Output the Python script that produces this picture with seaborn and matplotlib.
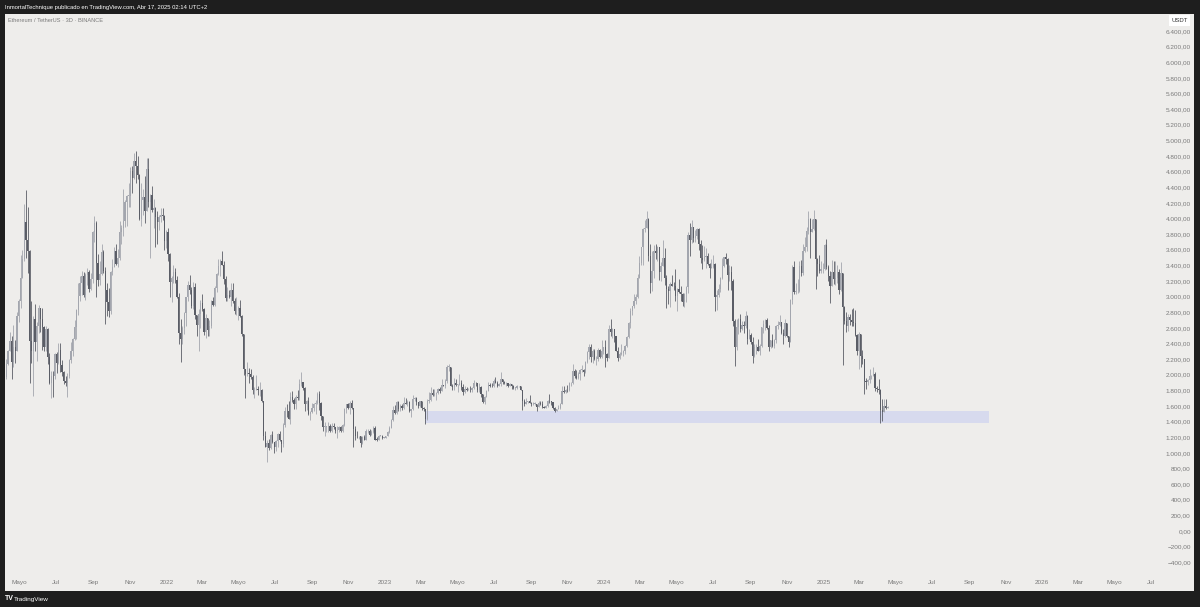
import numpy as np
import pandas as pd
import matplotlib
matplotlib.use("Agg")
import matplotlib.pyplot as plt
import matplotlib.dates as mdates
from matplotlib.patches import Rectangle
import seaborn as sns

# ---------------- data (ETH/USDT, 3-day candles) ----------------
first_date = "2021-04-08"
first_open = 1970

close_2021 = [2135, 2300, 2430, 2160, 2360, 2310, 2750, 2950, 3240, 3480,
              3950, 3720, 3580, 2430, 2300, 2720, 2420, 2630, 2850, 2710,
              2610, 2350, 2590, 2230, 1890, 1990, 1980, 2270, 2150, 2320,
              2120, 2040, 1920, 1890, 1990, 2190, 2300, 2460, 2610, 2830,
              3010, 3170, 3270, 3020, 3280, 3320, 3100, 3230, 3830, 3940,
              3430, 3210, 3290, 3570, 3330, 3080, 2930, 2810, 3310, 3380,
              3590, 3420, 3490, 3830, 3880, 3970, 4210, 4290, 4290, 4610,
              4520, 4730, 4670, 4560, 3990, 4240, 4270, 4100, 4630, 4210,
              4300, 4110, 4130, 4020, 3960, 4020, 4050, 4030, 3710, 3830]
high_2021 = [2200, 2320, 2550, 2500, 2640, 2440, 2800, 2970, 3530, 3600,
             4190, 4370, 4150, 3600, 2950, 2750, 2900, 2680, 2890, 2860,
             2850, 2620, 2620, 2600, 2280, 2050, 2050, 2280, 2290, 2410,
             2410, 2190, 2050, 1980, 2020, 2200, 2420, 2470, 2700, 2840,
             3180, 3270, 3330, 3320, 3300, 3370, 3340, 3300, 3840, 4030,
             3970, 3550, 3460, 3680, 3600, 3380, 3170, 3110, 3330, 3480,
             3640, 3670, 3610, 3970, 3920, 4380, 4240, 4300, 4460, 4660,
             4670, 4840, 4870, 4800, 4570, 4450, 4380, 4550, 4780, 4780,
             4320, 4420, 4250, 4150, 4100, 4050, 4140, 4130, 4050, 3850]
low_2021 = [1950, 2120, 2300, 1950, 2100, 2150, 2300, 2680, 2850, 3240,
            3450, 3500, 3300, 1900, 2150, 1730, 2300, 2170, 2530, 2550,
            2320, 2300, 2300, 2140, 1880, 1700, 1720, 1950, 2020, 2140,
            2040, 1990, 1880, 1850, 1720, 1960, 2150, 2240, 2450, 2460,
            2770, 2940, 3020, 3000, 2960, 3150, 3060, 3080, 3170, 3700,
            3000, 3140, 3150, 3280, 3300, 2650, 2750, 2740, 2780, 3280,
            3380, 3400, 3380, 3470, 3670, 3780, 3890, 3900, 4150, 4150,
            4330, 4500, 4450, 4500, 3980, 3900, 4050, 3940, 4100, 4150,
            3500, 4080, 3880, 3640, 3680, 3850, 3950, 3980, 3600, 3620]

close_2022 = [3540, 3190, 3240, 3310, 3210, 3000, 2530, 2460, 2600, 2790,
              2990, 3150, 3080, 2880, 3120, 2760, 2640, 2780, 2920, 2840,
              2550, 2730, 2570, 2620, 2950, 2890, 3110, 3290, 3390, 3450,
              3410, 3230, 2980, 3020, 2990, 3080, 2940, 2810, 2820, 2860,
              2750, 2520, 2080, 2010, 2020, 2010, 1970, 1800, 1810, 1820,
              1800, 1810, 1660, 1210, 1070, 1130, 1060, 1230, 1140, 1070,
              1150, 1240, 1170, 1110, 1360, 1540, 1530, 1440, 1720, 1680,
              1620, 1720, 1700, 1880, 1910, 1830, 1620, 1660, 1500, 1520,
              1580, 1620, 1640, 1760, 1640, 1470, 1330, 1330, 1340, 1340,
              1280, 1350, 1330, 1280, 1290, 1330, 1280, 1360, 1560, 1620,
              1570, 1640, 1570, 1300, 1220, 1210, 1220, 1130, 1200, 1170,
              1275, 1280, 1230, 1265, 1320, 1170, 1165, 1215, 1220, 1190,
              1196]
high_2022 = [3880, 3560, 3270, 3410, 3370, 3270, 3050, 2720, 2620, 2800,
             3000, 3200, 3280, 3120, 3190, 3180, 2760, 2840, 2960, 3040,
             2850, 2780, 2730, 2700, 2960, 2990, 3140, 3300, 3480, 3480,
             3580, 3450, 3270, 3120, 3090, 3180, 3180, 2980, 2990, 2880,
             2960, 2760, 2520, 2080, 2160, 2090, 2070, 2000, 1840, 2000,
             1850, 1910, 1820, 1670, 1280, 1160, 1180, 1240, 1280, 1140,
             1160, 1250, 1280, 1170, 1380, 1590, 1620, 1660, 1780, 1790,
             1700, 1740, 1800, 1940, 2030, 1910, 1840, 1680, 1720, 1540,
             1640, 1640, 1680, 1780, 1790, 1650, 1470, 1400, 1350, 1400,
             1370, 1380, 1380, 1330, 1340, 1340, 1340, 1370, 1580, 1630,
             1640, 1670, 1680, 1580, 1340, 1280, 1220, 1220, 1220, 1230,
             1300, 1300, 1300, 1290, 1350, 1350, 1200, 1230, 1230, 1230,
             1205]
low_2022 = [3450, 3000, 2930, 3180, 3170, 2980, 2400, 2160, 2400, 2520,
            2620, 2950, 3040, 2850, 2840, 2720, 2500, 2300, 2600, 2820,
            2510, 2470, 2500, 2500, 2600, 2880, 2880, 3060, 3280, 3260,
            3400, 3160, 2950, 2950, 2980, 2880, 2920, 2780, 2770, 2700,
            2740, 2500, 2000, 1700, 1980, 1900, 1950, 1750, 1700, 1800,
            1740, 1730, 1650, 1170, 1070, 880, 1040, 1050, 1130, 1000,
            1030, 1080, 1150, 1010, 1080, 1330, 1460, 1430, 1370, 1650,
            1560, 1560, 1680, 1680, 1860, 1800, 1530, 1550, 1480, 1420,
            1510, 1540, 1500, 1630, 1550, 1420, 1280, 1220, 1270, 1270,
            1270, 1270, 1310, 1260, 1190, 1270, 1270, 1270, 1340, 1510,
            1560, 1500, 1560, 1070, 1170, 1190, 1180, 1070, 1120, 1160,
            1170, 1260, 1220, 1230, 1250, 1160, 1150, 1160, 1210, 1180,
            1185]

close_2023 = [1215, 1270, 1320, 1420, 1550, 1515, 1650, 1560, 1600, 1570,
              1640, 1630, 1650, 1540, 1560, 1690, 1700, 1650, 1600, 1660,
              1570, 1560, 1430, 1670, 1680, 1770, 1740, 1750, 1770, 1820,
              1790, 1870, 1860, 1920, 2100, 2100, 1850, 1840, 1900, 1870,
              1870, 1900, 1845, 1780, 1820, 1800, 1810, 1800, 1830, 1900,
              1890, 1810, 1845, 1750, 1650, 1720, 1790, 1870, 1860, 1850,
              1920, 1900, 1860, 1880, 1940, 1910, 1890, 1890, 1860, 1880,
              1860, 1830, 1830, 1850, 1850, 1810, 1670, 1630, 1650, 1660,
              1640, 1630, 1630, 1630, 1590, 1640, 1630, 1590, 1580, 1600,
              1670, 1660, 1650, 1580, 1540, 1560, 1570, 1630, 1790, 1780,
              1810, 1800, 1890, 1890, 2050, 1980, 1960, 2010, 2060, 2060,
              2030, 2160, 2290, 2360, 2230, 2310, 2200, 2200, 2320, 2230,
              2300, 2350]
high_2023 = [1220, 1275, 1350, 1430, 1600, 1610, 1670, 1660, 1630, 1620,
             1710, 1700, 1680, 1660, 1560, 1740, 1720, 1710, 1650, 1670,
             1670, 1590, 1560, 1690, 1780, 1840, 1820, 1820, 1780, 1830,
             1840, 1940, 1870, 1940, 2130, 2140, 2100, 1880, 1960, 1940,
             1880, 2010, 1930, 1880, 1850, 1840, 1830, 1860, 1840, 1930,
             1910, 1900, 1890, 1850, 1750, 1730, 1800, 1910, 1900, 1900,
             1940, 1970, 1920, 1890, 2030, 1940, 1920, 1910, 1880, 1890,
             1880, 1870, 1840, 1870, 1860, 1860, 1810, 1690, 1700, 1670,
             1740, 1650, 1650, 1650, 1630, 1660, 1660, 1660, 1600, 1610,
             1680, 1750, 1670, 1650, 1590, 1560, 1610, 1640, 1860, 1860,
             1820, 1870, 1910, 1910, 2140, 2080, 2060, 2030, 2070, 2130,
             2070, 2170, 2300, 2390, 2400, 2330, 2330, 2240, 2340, 2330,
             2450, 2360]
low_2023 = [1190, 1210, 1260, 1320, 1410, 1500, 1500, 1540, 1530, 1550,
            1560, 1620, 1600, 1520, 1460, 1550, 1670, 1610, 1580, 1590,
            1550, 1540, 1370, 1420, 1640, 1670, 1730, 1730, 1680, 1760,
            1770, 1790, 1850, 1830, 1900, 2050, 1850, 1800, 1800, 1860,
            1780, 1880, 1810, 1740, 1770, 1790, 1800, 1780, 1780, 1820,
            1850, 1780, 1780, 1720, 1640, 1630, 1720, 1790, 1840, 1840,
            1840, 1900, 1840, 1850, 1860, 1880, 1880, 1850, 1840, 1850,
            1820, 1820, 1810, 1820, 1840, 1800, 1550, 1600, 1630, 1640,
            1640, 1600, 1610, 1610, 1530, 1590, 1610, 1580, 1570, 1570,
            1590, 1640, 1610, 1560, 1520, 1530, 1560, 1560, 1620, 1770,
            1770, 1780, 1790, 1860, 1880, 1960, 1950, 1940, 1930, 2040,
            1990, 2020, 2150, 2200, 2160, 2150, 2190, 2120, 2180, 2220,
            2220, 2270]

close_2024 = [2270, 2220, 2580, 2550, 2590, 2490, 2310, 2220, 2260, 2280,
              2300, 2370, 2480, 2660, 2820, 2880, 2940, 2990, 3240, 3430,
              3630, 3870, 3880, 4000, 3520, 3170, 3330, 3590, 3560, 3640,
              3310, 3390, 3500, 3240, 3100, 3070, 3160, 3140, 3130, 3010,
              3100, 3060, 3040, 2930, 3040, 3120, 3790, 3730, 3890, 3750,
              3780, 3860, 3680, 3500, 3470, 3510, 3520, 3420, 3370, 3380,
              3420, 2990, 3020, 3100, 3240, 3390, 3510, 3480, 3280, 3320,
              3200, 2690, 2350, 2610, 2720, 2590, 2640, 2620, 2750, 2460,
              2510, 2420, 2240, 2360, 2360, 2310, 2370, 2610, 2650, 2700,
              2600, 2350, 2440, 2370, 2440, 2620, 2640, 2670, 2530, 2500,
              2660, 2490, 2420, 2960, 3380, 3060, 3070, 3070, 3390, 3300,
              3590, 3640, 3840, 4000, 3830, 3870, 3990, 3480, 3420, 3330,
              3350, 3350]
high_2024 = [2440, 2280, 2640, 2720, 2600, 2590, 2500, 2360, 2290, 2390,
             2320, 2380, 2500, 2670, 2860, 2880, 3030, 3030, 3290, 3520,
             3640, 3880, 3980, 4090, 4010, 3680, 3580, 3660, 3670, 3650,
             3640, 3440, 3730, 3620, 3280, 3130, 3190, 3280, 3190, 3350,
             3110, 3220, 3130, 3050, 3050, 3130, 3830, 3940, 3980, 3890,
             3850, 3880, 3880, 3730, 3660, 3650, 3620, 3560, 3430, 3480,
             3530, 3430, 3080, 3160, 3250, 3500, 3510, 3560, 3490, 3400,
             3390, 3220, 2720, 2720, 2730, 2780, 2690, 2690, 2820, 2770,
             2590, 2540, 2480, 2390, 2400, 2460, 2390, 2610, 2700, 2720,
             2730, 2640, 2450, 2520, 2460, 2640, 2690, 2770, 2670, 2580,
             2720, 2660, 2500, 2970, 3410, 3450, 3170, 3220, 3450, 3470,
             3680, 3760, 3890, 4090, 4010, 3990, 4110, 3990, 3500, 3530,
             3460, 3430]
low_2024 = [2100, 2180, 2220, 2500, 2470, 2420, 2300, 2170, 2200, 2250,
            2240, 2260, 2360, 2470, 2600, 2770, 2860, 2900, 2980, 3240,
            3400, 3400, 3830, 3890, 3450, 3050, 3070, 3240, 3480, 3450,
            3210, 3200, 3450, 3150, 2850, 2900, 2870, 3130, 3080, 2950,
            2810, 3050, 2950, 2880, 2870, 2930, 3050, 3520, 3690, 3700,
            3700, 3740, 3600, 3430, 3360, 3460, 3370, 3410, 3240, 3370,
            3370, 2810, 2830, 3000, 3060, 3230, 3380, 3420, 3080, 3200,
            3080, 2630, 2110, 2320, 2520, 2550, 2570, 2540, 2600, 2400,
            2490, 2400, 2150, 2230, 2270, 2300, 2250, 2350, 2540, 2570,
            2590, 2310, 2340, 2350, 2340, 2410, 2580, 2620, 2520, 2400,
            2480, 2480, 2360, 2420, 2900, 3040, 3030, 3050, 3060, 3260,
            3280, 3570, 3590, 3800, 3500, 3830, 3850, 3100, 3260, 3300,
            3300, 3300]

close_2025 = [3660, 3380, 3270, 3140, 3310, 3220, 3240, 3310, 3080, 3300,
              2870, 2690, 2630, 2740, 2700, 2680, 2660, 2510, 2310, 2520,
              2240, 2200, 1920, 1910, 1930, 1980, 1990, 2010, 1830, 1820,
              1810, 1550, 1520, 1600, 1580, 1580]
high_2025 = [3670, 3740, 3400, 3330, 3470, 3450, 3450, 3400, 3350, 3440,
             3300, 2880, 2800, 2780, 2780, 2840, 2850, 2830, 2520, 2550,
             2520, 2320, 2200, 1960, 1950, 2070, 2000, 2100, 2030, 1860,
             1950, 1820, 1690, 1690, 1690, 1600]
low_2025 = [3340, 3360, 3200, 2920, 3130, 3160, 3150, 3180, 3030, 3070,
            2120, 2650, 2550, 2560, 2640, 2620, 2620, 2500, 2250, 2080,
            2100, 2140, 1760, 1820, 1870, 1890, 1940, 1990, 1790, 1780,
            1750, 1385, 1410, 1540, 1560, 1570]

# support zone drawn on the chart
zone_start = "2023-03-09"
zone_end = "2025-10-04"
zone_low = 1385
zone_high = 1540

# axis ticks
month_tick_dates = ["2021-05-01", "2021-07-01", "2021-09-01", "2021-11-01",
                    "2022-01-01", "2022-03-01", "2022-05-01", "2022-07-01", "2022-09-01", "2022-11-01",
                    "2023-01-01", "2023-03-01", "2023-05-01", "2023-07-01", "2023-09-01", "2023-11-01",
                    "2024-01-01", "2024-03-01", "2024-05-01", "2024-07-01", "2024-09-01", "2024-11-01",
                    "2025-01-01", "2025-03-01", "2025-05-01", "2025-07-01", "2025-09-01", "2025-11-01",
                    "2026-01-01", "2026-03-01", "2026-05-01", "2026-07-01"]
month_tick_labels = ["Mayo", "Jul", "Sep", "Nov",
                     "2022", "Mar", "Mayo", "Jul", "Sep", "Nov",
                     "2023", "Mar", "Mayo", "Jul", "Sep", "Nov",
                     "2024", "Mar", "Mayo", "Jul", "Sep", "Nov",
                     "2025", "Mar", "Mayo", "Jul", "Sep", "Nov",
                     "2026", "Mar", "Mayo", "Jul"]
price_ticks = list(range(-400, 6401, 200))

title_text = "InmortalTechnique publicado en TradingView.com, Abr 17, 2025 02:14 UTC+2"
symbol_text = "Ethereum / TetherUS · 3D · BINANCE"

# ---------------- styling ----------------
frame_color = "#1e1e1e"
pane_color = "#eeedeb"
up_color = "#a3a6ae"
down_color = "#5a5d66"
zone_color = "#d7daee"
label_color = "#7a7a7a"

sns.set_theme(style="white")
plt.rcParams["font.family"] = ["Liberation Sans", "DejaVu Sans"]

close = np.array(close_2021 + close_2022 + close_2023 + close_2024 + close_2025, dtype=float)
high = np.array(high_2021 + high_2022 + high_2023 + high_2024 + high_2025, dtype=float)
low = np.array(low_2021 + low_2022 + low_2023 + low_2024 + low_2025, dtype=float)
# each candle opens where the previous one closed
open_ = np.concatenate([[first_open], close[:-1]])

dates = pd.date_range(first_date, periods=len(close), freq="3D")
x = mdates.date2num(dates.to_pydatetime()) + 1.0
up = close >= open_
colors = np.where(up, up_color, down_color)

fig = plt.figure(figsize=(12, 6.07), dpi=100, facecolor=frame_color)
W, H = 1200, 607
left_px, right_px, top_px, bottom_px = 5, 1194, 14, 591
ax = fig.add_axes([left_px / W, (H - bottom_px) / H, (right_px - left_px) / W, (bottom_px - top_px) / H])
ax.set_facecolor(pane_color)
for s in ax.spines.values():
    s.set_visible(False)

# support zone
z0 = mdates.date2num(pd.Timestamp(zone_start).to_pydatetime())
z1 = mdates.date2num(pd.Timestamp(zone_end).to_pydatetime())
ax.add_patch(Rectangle((z0, zone_low), z1 - z0, zone_high - zone_low,
                       facecolor=zone_color, edgecolor="none", zorder=1))

# candles
wick_top = np.maximum(high, np.maximum(open_, close))
wick_bot = np.minimum(low, np.minimum(open_, close))
ax.vlines(x, wick_bot, wick_top, colors=colors, linewidth=0.6, zorder=2)
body_bottom = np.minimum(open_, close)
body_height = np.maximum(np.abs(close - open_), 8)
ax.bar(x, body_height, bottom=body_bottom, width=2.0, color=colors, linewidth=0, zorder=3)

# scales
px_per_day = 0.5996
x_left = mdates.date2num(pd.Timestamp("2021-04-07").to_pydatetime())
ax.set_xlim(x_left, x_left + (right_px - left_px) / px_per_day)
px_per_unit = 500 / 6400.0
zero_px = 531
ax.set_ylim((zero_px - bottom_px) / px_per_unit, (zero_px - top_px) / px_per_unit)

# x ticks (inside pane, bottom)
ax.set_xticks(mdates.date2num(pd.to_datetime(month_tick_dates).to_pydatetime()))
ax.set_xticklabels(month_tick_labels)
ax.tick_params(axis="x", length=0, pad=-5.8, labelsize=4.6, labelcolor=label_color)
for t in ax.get_xticklabels():
    t.set_verticalalignment("center")

# y ticks (inside pane, right)
def fmt_price(v):
    s = f"{abs(v):,.2f}".replace(",", "X").replace(".", ",").replace("X", ".")
    return ("\u2212" + s) if v < 0 else s

ax.yaxis.tick_right()
ax.set_yticks(price_ticks)
ax.set_yticklabels([fmt_price(v) for v in price_ticks])
ax.tick_params(axis="y", length=0, pad=-2.2, labelsize=4.6, labelcolor=label_color)
for t in ax.get_yticklabels():
    t.set_horizontalalignment("right")
ax.grid(False)

# currency badge
ax.text(1 - 14.5 / (right_px - left_px), 1 - 6.5 / (bottom_px - top_px), "USDT",
        transform=ax.transAxes, ha="center", va="center", fontsize=4.3, color="#333333",
        bbox=dict(boxstyle="square,pad=0.45", facecolor="white", edgecolor="none"), zorder=6)

# header / footer texts
fig.text(5 / W, 1 - 7 / H, title_text, color="white", fontsize=4.25, va="center", ha="left")
fig.text(8 / W, 1 - 20 / H, symbol_text, color=label_color, fontsize=4.1, va="center", ha="left")
fig.text(5 / W, 1 - 599 / H, "TV", color="white", fontsize=5, fontweight="bold", va="center", ha="left")
fig.text(14 / W, 1 - 599 / H, "TradingView", color="white", fontsize=4.6, va="center", ha="left")

fig.savefig("out.png", dpi=100, facecolor=frame_color)
